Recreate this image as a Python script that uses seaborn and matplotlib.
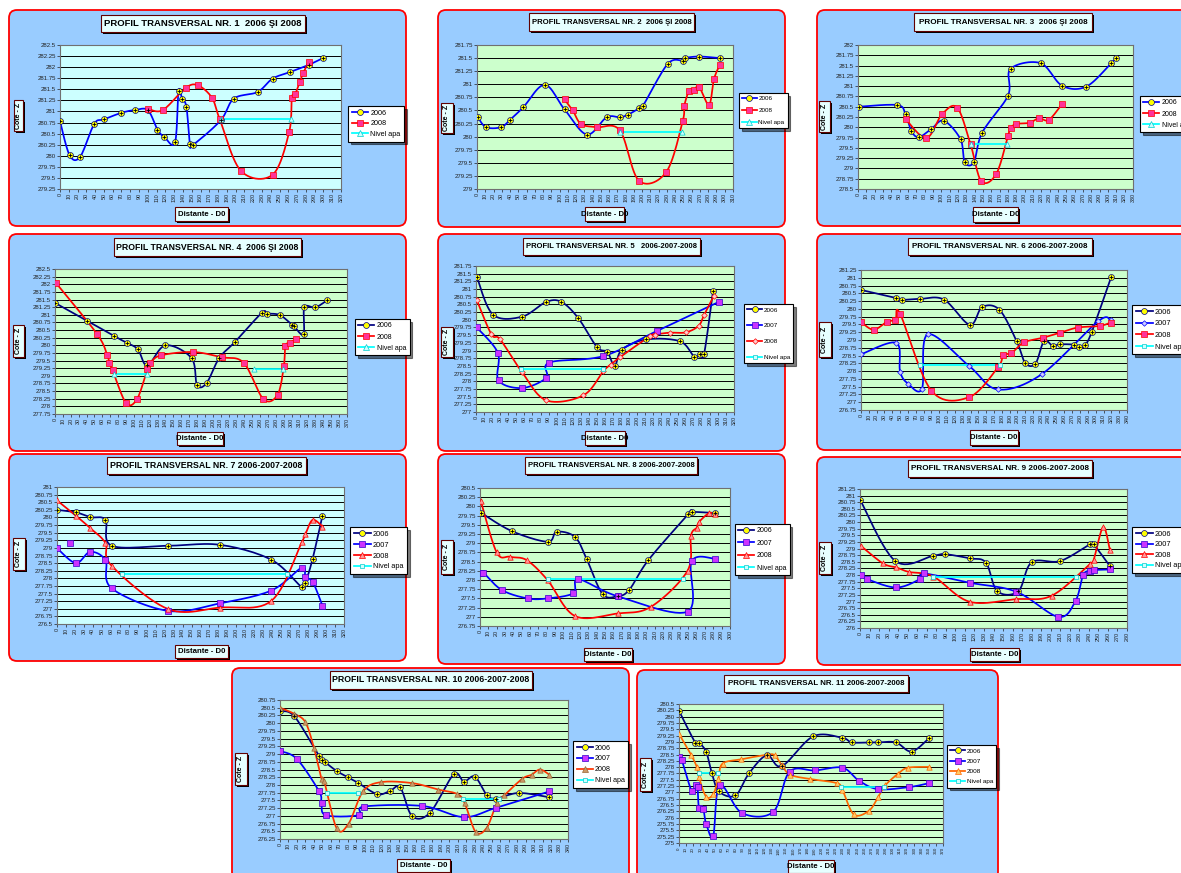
import numpy as np
import matplotlib
matplotlib.use('Agg')
import matplotlib.pyplot as plt
from matplotlib.patches import FancyBboxPatch, Rectangle
from matplotlib.lines import Line2D
from matplotlib.ticker import MultipleLocator, FuncFormatter
import seaborn as sns

nan = np.nan

# ---- data (distance D0, elevation Z) ----
# Profile 1
p1_x_2006 = [0, 11, 23, 39, 50, 70, 85, 100, 111, 119, 131, 135, 139, 144, 148, 152, 183, 198, 225, 242, 262, 283, 299]
p1_y_2006 = [280.78, 280.01, 279.98, 280.72, 280.82, 280.97, 281.03, 281.03, 280.59, 280.42, 280.30, 281.46, 281.29,
             281.10, 280.27, 280.25, 280.80, 281.29, 281.44, 281.74, 281.89, 282.05, 282.20]
p1_x_2008 = [100, 117, 143, 157, 173, 182, 206, 242, 261, 264, 268, 273, 277, 283]
p1_y_2008 = [281.06, 281.03, 281.53, 281.59, 281.31, 280.82, 279.66, 279.57, 280.54, 281.31, 281.40, 281.67, 281.87, 282.11]
p1_x_apa = [183, 263]
p1_y_apa = [280.82, 280.82]

# Profile 2
p2_x_2006 = [1, 11, 29, 40, 56, 82, 106, 133, 157, 173, 183, 196, 201, 231, 250, 252, 269, 294]
p2_y_2006 = [280.37, 280.18, 280.18, 280.32, 280.56, 280.99, 280.52, 280.04, 280.37, 280.37, 280.42, 280.54, 280.59,
             281.39, 281.45, 281.50, 281.53, 281.50]
p2_x_2008 = [106, 116, 126, 145, 173, 196, 229, 249, 251, 257, 263, 269, 281, 287, 294]
p2_y_2008 = [280.71, 280.50, 280.24, 280.18, 280.12, 279.16, 279.32, 280.29, 280.59, 280.88, 280.90, 280.95, 280.61,
             281.10, 281.37]
p2_x_apa = [173, 248]
p2_y_apa = [280.09, 280.09]

# Profile 3
p3_x_2006 = [1, 47, 57, 64, 73, 88, 103, 123, 128, 139, 149, 180, 183, 219, 245, 274, 304, 310]
p3_y_2006 = [280.50, 280.54, 280.32, 279.91, 279.76, 279.96, 280.16, 279.71, 279.15, 279.15, 279.87, 280.77, 281.42,
             281.56, 281.01, 280.99, 281.56, 281.69]
p3_x_2008 = [57, 82, 101, 119, 135, 148, 166, 180, 183, 190, 206, 217, 229, 245]
p3_y_2008 = [280.20, 279.74, 280.32, 280.48, 279.59, 278.69, 278.87, 279.79, 279.98, 280.08, 280.11, 280.22, 280.18, 280.57]
p3_x_apa = [135, 179]
p3_y_apa = [279.59, 279.59]

# Profile 4
p4_x_2006 = [0, 40, 75, 91, 105, 117, 140, 173, 180, 192, 208, 228, 262, 269, 285, 300, 303, 315, 316, 330, 345]
p4_y_2006 = [281.39, 280.81, 280.30, 280.08, 279.87, 279.34, 280.00, 279.58, 278.70, 278.76, 279.58, 280.11, 281.06,
             281.04, 280.99, 280.68, 280.62, 280.36, 281.24, 281.24, 281.48]
p4_x_2008 = [1, 53, 66, 69, 73, 90, 104, 117, 121, 134, 175, 211, 239, 264, 282, 290, 292, 298, 305]
p4_y_2008 = [282.05, 280.38, 279.69, 279.42, 279.18, 278.11, 278.24, 279.21, 279.42, 279.67, 279.78, 279.61, 279.43,
             278.24, 278.38, 279.32, 279.98, 280.09, 280.20]
p4_x_apa = [75, 116, nan, 252, 289]
p4_y_apa = [279.07, 279.07, nan, 279.21, 279.21]

# Profile 5
p5_x_2006 = [1, 21, 57, 87, 106, 127, 150, 163, 172, 181, 211, 253, 271, 278, 283, 294]
p5_y_2006 = [281.40, 280.17, 280.10, 280.58, 280.58, 280.05, 279.11, 278.95, 278.49, 279.03, 279.36, 279.30, 278.79,
             278.90, 278.90, 280.93]
p5_x_2007 = [1, 27, 28, 57, 87, 91, 158, 224, 301]
p5_y_2007 = [279.75, 278.93, 278.03, 277.78, 278.11, 278.61, 278.82, 279.63, 280.58]
p5_x_2008 = [1, 19, 30, 57, 87, 133, 158, 167, 179, 216, 222, 240, 260, 276, 283, 295]
p5_y_2008 = [280.64, 279.53, 279.36, 278.30, 277.38, 277.54, 278.33, 278.54, 278.79, 279.47, 279.52, 279.58, 279.59,
             279.80, 280.16, 280.78]
p5_x_apa = [56, 157]
p5_y_apa = [278.39, 278.39]

# Profile 6
p6_x_2006 = [0, 45, 52, 75, 106, 139, 155, 177, 199, 210, 223, 234, 245, 254, 272, 279, 286, 295, 320]
p6_y_2006 = [280.61, 280.35, 280.29, 280.32, 280.30, 279.49, 280.06, 279.97, 278.96, 278.26, 278.24, 278.97, 278.81,
             278.86, 278.85, 278.76, 278.83, 279.26, 281.04]
p6_x_2007 = [0, 45, 50, 60, 78, 85, 138, 175, 231, 303, 319]
p6_y_2007 = [278.54, 278.91, 277.98, 277.60, 277.44, 279.18, 278.17, 277.41, 277.90, 279.60, 279.63]
p6_x_2008 = [0, 16, 33, 44, 50, 90, 138, 175, 182, 192, 208, 232, 254, 277, 305, 319]
p6_y_2008 = [279.58, 279.33, 279.58, 279.65, 279.84, 277.37, 277.16, 278.12, 278.53, 278.57, 278.92, 279.07, 279.23,
             279.40, 279.45, 279.56]
p6_x_apa = [75, 178]
p6_y_apa = [278.21, 278.21]

# Profile 7
p7_x = [0, 21, 37, 54, 61, 124, 182, 239, 273, 277, 285, 296]
p7_y_2006 = [280.25, 280.17, 280.01, 279.92, 279.07, 279.07, 279.10, 278.61, 277.71, 277.86, 278.64, 280.06]
p7_y_2007 = [278.99, 278.50, 278.87, 278.59, 277.67, 276.93, 277.18, 277.60, 278.35, 278.03, 277.89, 277.10]
p7_x_2007b = [15]
p7_y_2007b = [279.15]
p7_y_2008 = [280.56, 280.06, 279.65, 279.16, 278.41, 276.99, 277.04, 277.26, 279.19, 279.45, 279.92, 279.70]
p7_x_apa = [72, 257]
p7_y_apa = [278.13, 278.13]

# Profile 8
p8_x_2006 = [1, 38, 81, 92, 114, 128, 147, 165, 179, 202, 250, 254, 282]
p8_y_2006 = [279.83, 279.33, 279.04, 279.31, 279.17, 278.57, 277.62, 277.56, 277.73, 278.54, 279.79, 279.85, 279.82]
p8_x_2007 = [1, 4, 26, 57, 81, 112, 118, 165, 249, 254, 282]
p8_y_2007 = [278.20, 278.20, 277.73, 277.50, 277.50, 277.64, 278.02, 277.56, 277.14, 278.51, 278.58]
p8_x_2008 = [1, 20, 36, 56, 81, 114, 165, 205, 249, 253, 260, 263, 275, 282]
p8_y_2008 = [280.14, 278.75, 278.63, 278.54, 278.00, 277.02, 277.09, 277.27, 278.25, 279.20, 279.42, 279.58, 279.82, 279.78]
p8_x_apa = [81, 243]
p8_y_apa = [278.02, 278.02]

# Profile 9
p9_x_2006 = [0, 37, 77, 89, 115, 132, 144, 166, 180, 210, 241, 245, 262]
p9_y_2006 = [280.85, 278.53, 278.73, 278.79, 278.63, 278.47, 277.39, 277.39, 278.48, 278.53, 279.16, 279.16, 278.34]
p9_x_2007 = [1, 7, 38, 63, 67, 115, 164, 208, 226, 234, 241, 245, 262]
p9_y_2007 = [278.00, 277.85, 277.53, 277.85, 278.06, 277.71, 277.37, 276.42, 277.02, 278.00, 278.16, 278.19, 278.21]
p9_x_2008 = [1, 24, 38, 51, 77, 115, 164, 201, 241, 245, 255, 262]
p9_y_2008 = [279.10, 278.44, 278.29, 278.12, 277.94, 276.99, 277.09, 277.22, 278.41, 278.57, 279.81, 278.95]
p9_x_apa = [77, 226]
p9_y_apa = [277.91, 277.91]

# Profile 10
p10_x_2006 = [0, 17, 46, 50, 53, 67, 80, 92, 115, 130, 142, 156, 177, 205, 217, 230, 244, 255, 282, 318]
p10_y_2006 = [280.39, 280.22, 278.94, 278.82, 278.74, 278.45, 278.25, 278.07, 277.70, 277.81, 277.92, 276.99, 277.10,
              278.34, 278.11, 278.27, 277.68, 277.56, 277.74, 277.60]
p10_x_2007 = [0, 20, 46, 49, 54, 93, 99, 168, 217, 255, 318]
p10_y_2007 = [279.10, 278.84, 277.80, 277.43, 277.02, 277.02, 277.30, 277.32, 276.96, 277.26, 277.79]
p10_x_2008 = [0, 17, 30, 40, 49, 52, 67, 81, 98, 119, 156, 187, 209, 218, 231, 244, 256, 265, 286, 297, 307, 318]
p10_y_2008 = [280.50, 280.30, 280.03, 279.21, 278.20, 278.14, 276.59, 276.75, 277.79, 278.09, 278.06, 277.85, 277.71,
              277.41, 276.48, 276.61, 277.41, 277.67, 278.20, 278.33, 278.50, 278.33]
p10_x_apa = [56, 92, nan, 216, 259]
p10_y_apa = [277.74, 277.74, nan, 277.54, 277.54]

# Profile 11
p11_x_2006 = [0, 23, 28, 38, 46, 56, 79, 98, 123, 144, 188, 229, 242, 266, 279, 304, 326, 351]
p11_y_2006 = [280.23, 278.96, 278.96, 278.61, 277.78, 277.04, 276.88, 277.75, 278.47, 278.04, 279.22, 279.16, 278.98,
              278.98, 278.98, 278.98, 278.62, 279.16]
p11_x_2007 = [0, 4, 18, 24, 26, 28, 34, 38, 48, 57, 88, 132, 155, 191, 229, 252, 279, 322, 351]
p11_y_2007 = [278.42, 278.27, 277.04, 277.28, 277.20, 276.39, 276.34, 275.76, 275.29, 277.30, 276.19, 276.23, 277.82,
              277.87, 277.98, 277.47, 277.13, 277.21, 277.37]
p11_x_2008 = [0, 17, 25, 28, 38, 48, 55, 61, 87, 123, 134, 144, 156, 184, 221, 229, 245, 266, 279, 289, 307, 321, 351]
p11_y_2008 = [279.32, 278.49, 278.00, 277.60, 276.83, 276.93, 277.53, 278.14, 278.31, 278.49, 278.47, 278.08, 277.70,
              277.53, 277.37, 277.10, 276.13, 276.27, 276.81, 277.28, 277.74, 277.98, 278.01]
p11_x_apa = [28, 55, nan, 227, 287]
p11_y_apa = [277.78, 277.78, nan, 277.20, 277.20]

# ---- series styles ----
S06a = dict(lc='#0000FF', m='o', s=18, fc='#FFFF00', ec='#000080', dot=True)
S06b = dict(lc='#000080', m='o', s=18, fc='#FFFF00', ec='#000080', dot=True)
S08sq = dict(lc='#FF0000', m='s', s=15, fc='#FF3399', ec='#FF0000')
S07sq = dict(lc='#0000FF', m='s', s=15, fc='#CC33FF', ec='#3300CC')
S07dia = dict(lc='#0000FF', m='D', s=8, fc='#CCCCFF', ec='#0000FF')
S08dia = dict(lc='#FF0000', m='D', s=8, fc='#FFCCCC', ec='#FF0000')
S08tri = dict(lc='#FF0000', m='^', s=15, fc='#FF9999', ec='#FF0000')
S08brn = dict(lc='#FF3300', m='^', s=15, fc='#CC9966', ec='#996633')
S08org = dict(lc='#FF6600', m='^', s=15, fc='#FFCC66', ec='#FF6600')
SAPtri = dict(lc='#00FFFF', m='^', s=14, fc='#CCFFFF', ec='#00CCCC')
SAPsq = dict(lc='#00FFFF', m='s', s=12, fc='#CCFFFF', ec='#00CCCC')

CYAN_BG = '#CCFFFF'
GREEN_BG = '#CCFFCC'

PANELS = [
    dict(title='PROFIL TRANSVERSAL NR. 1  2006 ŞI 2008', tfs=6.8, xmax=320, ylim=(279.25, 282.5), face=CYAN_BG,
         series=[('2006', p1_x_2006, p1_y_2006, S06a), ('2008', p1_x_2008, p1_y_2008, S08sq),
                 ('Nivel apa', p1_x_apa, p1_y_apa, SAPtri)],
         box=(9, 10, 406, 226), plot=(60, 45, 341, 189), tbox=(101, 15, 305, 32), leg=(348, 106), lfs=5.2, lsp=0.5,
         ybox=(14, 100, 23, 131), xbox=(175, 207, 228, 221)),
    dict(title='PROFIL TRANSVERSAL NR. 2  2006 ŞI 2008', tfs=5.6, xmax=310, ylim=(279, 281.75), face=GREEN_BG,
         series=[('2006', p2_x_2006, p2_y_2006, S06a), ('2008', p2_x_2008, p2_y_2008, S08sq),
                 ('Nivel apa', p2_x_apa, p2_y_apa, SAPtri)],
         box=(438, 10, 785, 227), plot=(477, 45, 733, 189), tbox=(529, 13, 694, 31), leg=(739, 93), lfs=4.5, lsp=1.0,
         ybox=(441, 103, 453, 133), xbox=(585, 207, 624, 221)),
    dict(title='PROFIL TRANSVERSAL NR. 3  2006 ŞI 2008', tfs=5.9, xmax=330, ylim=(278.5, 282), face=GREEN_BG,
         series=[('2006', p3_x_2006, p3_y_2006, S06a), ('2008', p3_x_2008, p3_y_2008, S08sq),
                 ('Nivel apa', p3_x_apa, p3_y_apa, SAPtri)],
         box=(817, 10, 1200, 226), plot=(858, 45, 1133, 189), tbox=(914, 13, 1092, 31), leg=(1140, 96), lfs=5.0,
         lsp=0.6, ybox=(819, 101, 830, 132), xbox=(973, 207, 1018, 222)),
    dict(title='PROFIL TRANSVERSAL NR. 4  2006 ŞI 2008', tfs=6.3, xmax=370, ylim=(277.75, 282.5), face=GREEN_BG,
         series=[('2006', p4_x_2006, p4_y_2006, S06b), ('2008', p4_x_2008, p4_y_2008, S08sq),
                 ('Nivel apa', p4_x_apa, p4_y_apa, SAPtri)],
         box=(9, 234, 406, 451), plot=(55, 269, 347, 414), tbox=(114, 238, 301, 256), leg=(355, 319), lfs=5.0,
         lsp=0.6, ybox=(13, 325, 24, 357), xbox=(177, 432, 223, 445)),
    dict(title='PROFIL TRANSVERSAL NR. 5   2006-2007-2008', tfs=5.5, xmax=320, ylim=(277, 281.75), face=GREEN_BG,
         series=[('2006', p5_x_2006, p5_y_2006, S06b), ('2007', p5_x_2007, p5_y_2007, S07sq),
                 ('2008', p5_x_2008, p5_y_2008, S08dia), ('Nivel apa', p5_x_apa, p5_y_apa, SAPsq)],
         box=(438, 234, 785, 451), plot=(476, 266, 734, 412), tbox=(523, 238, 700, 255), leg=(744, 304), lfs=4.6,
         lsp=1.6, ybox=(441, 327, 453, 357), xbox=(585, 431, 625, 445)),
    dict(title='PROFIL TRANSVERSAL NR. 6 2006-2007-2008', tfs=5.8, xmax=340, ylim=(276.75, 281.25), face=GREEN_BG,
         series=[('2006', p6_x_2006, p6_y_2006, S06b), ('2007', p6_x_2007, p6_y_2007, S07dia),
                 ('2008', p6_x_2008, p6_y_2008, S08sq), ('Nivel apa', p6_x_apa, p6_y_apa, SAPsq)],
         box=(817, 234, 1200, 450), plot=(861, 270, 1127, 410), tbox=(908, 238, 1092, 255), leg=(1132, 305), lfs=5.3,
         lsp=0.6, ybox=(819, 322, 831, 357), xbox=(970, 430, 1018, 445)),
    dict(title='PROFIL TRANSVERSAL NR. 7 2006-2007-2008', tfs=6.3, xmax=320, ylim=(276.5, 281), face=CYAN_BG,
         series=[('2006', p7_x, p7_y_2006, S06b), ('2007', p7_x, p7_y_2007, S07sq),
                 ('2008', p7_x, p7_y_2008, S08tri), ('Nivel apa', p7_x_apa, p7_y_apa, SAPsq),
                 (None, p7_x_2007b, p7_y_2007b, dict(S07sq, noline=True))],
         box=(9, 454, 406, 661), plot=(57, 487, 344, 624), tbox=(107, 457, 306, 474), leg=(350, 527), lfs=5.3,
         lsp=0.5, ybox=(13, 538, 25, 570), xbox=(175, 645, 228, 658)),
    dict(title='PROFIL TRANSVERSAL NR. 8 2006-2007-2008', tfs=5.5, xmax=300, ylim=(276.75, 280.5), face=GREEN_BG,
         series=[('2006', p8_x_2006, p8_y_2006, S06b), ('2007', p8_x_2007, p8_y_2007, S07sq),
                 ('2008', p8_x_2008, p8_y_2008, S08tri), ('Nivel apa', p8_x_apa, p8_y_apa, SAPsq)],
         box=(438, 454, 785, 664), plot=(480, 488, 730, 626), tbox=(525, 457, 697, 474), leg=(735, 524), lfs=5.0,
         lsp=0.78, ybox=(441, 540, 453, 574), xbox=(584, 648, 632, 661)),
    dict(title='PROFIL TRANSVERSAL NR. 9 2006-2007-2008', tfs=5.85, xmax=280, ylim=(276, 281.25), face=GREEN_BG,
         series=[('2006', p9_x_2006, p9_y_2006, S06b), ('2007', p9_x_2007, p9_y_2007, S07sq),
                 ('2008', p9_x_2008, p9_y_2008, S08tri), ('Nivel apa', p9_x_apa, p9_y_apa, SAPsq)],
         box=(817, 457, 1200, 665), plot=(860, 489, 1127, 628), tbox=(908, 460, 1092, 477), leg=(1132, 527), lfs=5.3,
         lsp=0.45, ybox=(819, 542, 831, 574), xbox=(970, 648, 1019, 661)),
    dict(title='PROFIL TRANSVERSAL NR. 10 2006-2007-2008', tfs=6.3, xmax=340, ylim=(276.25, 280.75), face=GREEN_BG,
         series=[('2006', p10_x_2006, p10_y_2006, S06b), ('2007', p10_x_2007, p10_y_2007, S07sq),
                 ('2008', p10_x_2008, p10_y_2008, S08brn), ('Nivel apa', p10_x_apa, p10_y_apa, SAPsq)],
         box=(232, 668, 629, 880), plot=(280, 700, 568, 839), tbox=(330, 671, 532, 689), leg=(573, 741), lfs=5.1,
         lsp=0.55, ybox=(235, 753, 247, 785), xbox=(397, 859, 450, 872)),
    dict(title='PROFIL TRANSVERSAL NR. 11 2006-2007-2008', tfs=5.7, xmax=370, ylim=(275, 280.5), face=GREEN_BG,
         series=[('2006', p11_x_2006, p11_y_2006, S06b), ('2007', p11_x_2007, p11_y_2007, S07sq),
                 ('2008', p11_x_2008, p11_y_2008, S08org), ('Nivel apa', p11_x_apa, p11_y_apa, SAPsq)],
         box=(637, 670, 998, 880), plot=(679, 704, 943, 843), tbox=(724, 675, 908, 692), leg=(947, 745), lfs=4.6,
         lsp=0.75, ybox=(640, 758, 651, 791), xbox=(788, 860, 834, 873), xfs=3.2),
]


def smooth(x, y, n=14):
    # Bezier smoothing through the points, like the spreadsheet's "smoothed line"
    x = np.asarray(x, float)
    y = np.asarray(y, float)
    if len(x) < 3:
        return x, y
    P = np.column_stack([x, y])
    Q = np.vstack([P[0], P, P[-1]])
    t = np.linspace(0, 1, n)[1:, None]
    out = [P[:1]]
    for i in range(len(P) - 1):
        p0, p1, p2, p3 = Q[i], Q[i + 1], Q[i + 2], Q[i + 3]
        c1 = p1 + (p2 - p0) / 6
        c2 = p2 - (p3 - p1) / 6
        out.append((1 - t) ** 3 * p1 + 3 * (1 - t) ** 2 * t * c1 + 3 * (1 - t) * t ** 2 * c2 + t ** 3 * p2)
    C = np.vstack(out)
    return C[:, 0], C[:, 1]


def segments(x, y):
    segs, cx, cy = [], [], []
    for a, b in zip(x, y):
        if np.isnan(a) or np.isnan(b):
            if cx:
                segs.append((cx, cy))
            cx, cy = [], []
        else:
            cx.append(a)
            cy.append(b)
    if cx:
        segs.append((cx, cy))
    return segs


W, H = 1181, 873
plt.rcParams['font.family'] = ['Liberation Sans', 'DejaVu Sans']

fig = plt.figure(figsize=(W / 100, H / 100), dpi=100)
fig.patch.set_facecolor('white')
bg = fig.add_axes([0, 0, 1, 1])
bg.set_xlim(0, W)
bg.set_ylim(H, 0)
bg.axis('off')


def label_box(rect, text, fs, rot=0):
    x0, y0, x1, y1 = rect
    bg.add_patch(Rectangle((x0 + 2, y0 + 2), x1 - x0, y1 - y0, fc='black', ec='none'))
    bg.add_patch(Rectangle((x0, y0), x1 - x0, y1 - y0, fc='#E6FFFF', ec='#600000', lw=0.8))
    bg.text((x0 + x1) / 2, (y0 + y1) / 2, text, ha='center', va='center', fontsize=fs,
            fontweight='bold', rotation=rot, color='black')


for p in PANELS:
    bx0, by0, bx1, by1 = p['box']
    bg.add_patch(FancyBboxPatch((bx0, by0), bx1 - bx0, by1 - by0,
                                boxstyle='round,pad=0,rounding_size=8',
                                fc='#99CCFF', ec='#FF0000', lw=1.3))
    label_box(p['tbox'], p['title'], p['tfs'])
    label_box(p['ybox'], 'Cote - Z', 5.0, rot=90)
    label_box(p['xbox'], 'Distante - D0', 5.6)

    x0, y0, x1, y1 = p['plot']
    ax = fig.add_axes([x0 / W, 1 - y1 / H, (x1 - x0) / W, (y1 - y0) / H])
    ax.set_facecolor(p['face'])

    handles, labels = [], []
    for label, xs, ys, st in p['series']:
        if not st.get('noline'):
            for sx, sy in segments(xs, ys):
                cx, cy = smooth(sx, sy)
                sns.lineplot(x=cx, y=cy, sort=False, estimator=None, color=st['lc'],
                             lw=1.25, ax=ax, zorder=2)
        sns.scatterplot(x=xs, y=ys, marker=st['m'], s=st['s'], color=st['fc'],
                        edgecolor=st['ec'], linewidth=0.5, ax=ax, zorder=3)
        if st.get('dot'):
            ax.scatter(xs, ys, marker='+', s=5, c='black', linewidths=0.6, zorder=4)
        if label:
            handles.append(Line2D([0], [0], color=st['lc'], lw=1.25, marker=st['m'],
                                  ms=np.sqrt(st['s']), mfc=st['fc'], mec=st['ec'], mew=0.5))
            labels.append(label)

    ax.set_xlim(0, p['xmax'])
    ax.set_ylim(*p['ylim'])
    ax.xaxis.set_major_locator(MultipleLocator(10))
    ax.yaxis.set_major_locator(MultipleLocator(0.25))
    ax.xaxis.set_major_formatter(FuncFormatter(lambda v, _: f'{v:g}'))
    ax.yaxis.set_major_formatter(FuncFormatter(lambda v, _: f'{v:g}'))
    ax.tick_params(axis='x', labelrotation=90, labelsize=p.get('xfs', 3.9), length=2, width=0.5, pad=1,
                   colors='#222222')
    ax.tick_params(axis='y', labelsize=4.3, length=2, width=0.5, pad=1, colors='#222222')
    ax.yaxis.grid(True, color='black', lw=0.7)
    ax.xaxis.grid(False)
    ax.set_axisbelow(True)
    for sp in ax.spines.values():
        sp.set_color('#707070')
        sp.set_linewidth(0.8)
    ax.set_xlabel('')
    ax.set_ylabel('')

    lx, ly = p['leg']
    leg = ax.legend(handles, labels, loc='upper left', bbox_to_anchor=(lx / W, 1 - ly / H),
                    bbox_transform=fig.transFigure, fontsize=p['lfs'], frameon=True,
                    fancybox=False, edgecolor='black', facecolor='white', framealpha=1,
                    borderpad=0.5, borderaxespad=0, handlelength=2.3, handletextpad=0.3,
                    labelspacing=p['lsp'], shadow={'color': 'black'})
    leg.get_frame().set_linewidth(0.8)

fig.savefig('out.png', dpi=100)
